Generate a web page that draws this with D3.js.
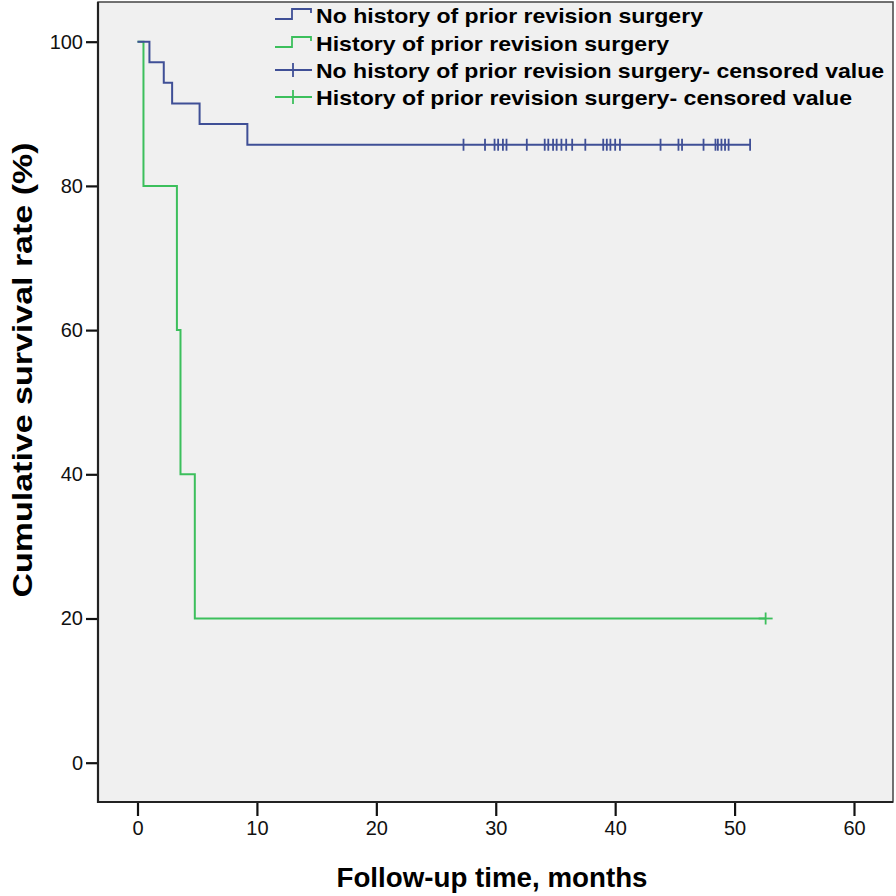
<!DOCTYPE html>
<html><head><meta charset="utf-8">
<script src="https://cdn.jsdelivr.net/npm/d3@7"></script>
<style>body{margin:0;background:#fff}svg{display:block}</style>
</head><body><svg id="c" width="896" height="896"></svg>
<script>
// ---- data ----
const groups = ["No history of prior revision surgery", "History of prior revision surgery"];
const noHistEventTimes = [1.0, 2.2, 2.9, 5.2, 9.2];
const noHistSurvival = [100, 97.14, 94.29, 91.43, 88.57, 85.71];
const noHistCensorTimes = [27.3, 29.1, 29.9, 30.2, 30.6, 30.9, 32.6, 34.1, 34.4, 34.8,
  35.1, 35.5, 35.9, 36.4, 37.5, 39.0, 39.3, 39.6, 40.0, 40.4,
  43.8, 45.3, 45.6, 47.4, 48.4, 48.6, 48.9, 49.2, 49.5, 51.3];
const histEventTimes = [0.5, 3.3, 3.6, 4.8];
const histSurvival = [100, 80, 60, 40, 20];
const histCensorTimes = [52.6];
const xTicks = [0, 10, 20, 30, 40, 50, 60];
const yTicks = [0, 20, 40, 60, 80, 100];
const legendLabels = [
  "No history of prior revision surgery",
  "History of prior revision surgery",
  "No history of prior revision surgery- censored value",
  "History of prior revision surgery- censored value"
];
const xTitle = "Follow-up time, months";
const yTitle = "Cumulative survival rate (%)";

// ---- layout ----
const svg = d3.select("#c");
const colors = ["#3f4f96", "#3cbf5c"];
const frame = {l: 98, r: 893, t: 2, b: 802};
const x = d3.scaleLinear().domain([0, 60]).range([137.5, 854]);
const y = d3.scaleLinear().domain([0, 100]).range([762.7, 41.7]);
const font = "'Liberation Sans', Arial, sans-serif";

svg.append("rect").attr("x", frame.l).attr("y", frame.t)
  .attr("width", frame.r - frame.l).attr("height", frame.b - frame.t)
  .attr("fill", "#f0f0f0").attr("stroke", "#444").attr("stroke-width", 1.5);

// axes
const yAxis = d3.axisLeft(y).tickValues(yTicks).tickSize(12).tickPadding(3);
const gy = svg.append("g").attr("transform", `translate(${frame.l},0)`).call(yAxis);
const xAxis = d3.axisBottom(x).tickValues(xTicks).tickSize(14).tickPadding(5);
const gx = svg.append("g").attr("transform", `translate(0,${frame.b})`).call(xAxis);
[gx, gy].forEach(g => {
  g.select(".domain").remove();
  g.selectAll(".tick line").attr("stroke", "#111").attr("stroke-width", 2.2);
  g.selectAll(".tick text").attr("font-family", font).attr("font-size", 20).attr("fill", "#111");
});
// axis lines
svg.append("line").attr("x1", frame.l).attr("x2", frame.l).attr("y1", frame.t).attr("y2", frame.b + 1)
  .attr("stroke", "#222").attr("stroke-width", 2.2);
svg.append("line").attr("x1", frame.l - 1).attr("x2", frame.r).attr("y1", frame.b).attr("y2", frame.b)
  .attr("stroke", "#222").attr("stroke-width", 2.2);

// curves
function kmPoints(times, surv, endT) {
  const pts = [[0, surv[0]]];
  times.forEach((t, i) => pts.push([t, surv[i + 1]]));
  pts.push([endT, surv[surv.length - 1]]);
  return pts;
}
const line = d3.line().x(d => x(d[0])).y(d => y(d[1])).curve(d3.curveStepAfter);
const series = [
  {pts: kmPoints(noHistEventTimes, noHistSurvival, d3.max(noHistCensorTimes)), cens: noHistCensorTimes, s: noHistSurvival[noHistSurvival.length - 1], c: colors[0], plus: false},
  {pts: kmPoints(histEventTimes, histSurvival, d3.max(histCensorTimes)), cens: histCensorTimes, s: histSurvival[histSurvival.length - 1], c: colors[1], plus: true}
];
series.slice().reverse().forEach(sr => {
  svg.append("path").attr("d", line(sr.pts)).attr("fill", "none")
    .attr("stroke", sr.c).attr("stroke-width", 2);
});
series.forEach(sr => {
  const g = svg.append("g").attr("stroke", sr.c).attr("stroke-width", 1.8);
  g.selectAll("line.v").data(sr.cens).join("line")
    .attr("x1", d => x(d)).attr("x2", d => x(d))
    .attr("y1", y(sr.s) - 6).attr("y2", y(sr.s) + 6);
  if (sr.plus) {
    g.selectAll("line.h").data(sr.cens).join("line")
      .attr("x1", d => x(d) - 7).attr("x2", d => x(d) + 7)
      .attr("y1", y(sr.s)).attr("y2", y(sr.s));
  }
});

// legend
const legRows = [15, 43, 70, 97];
const legWidths = [387, 353, 568, 536];
legendLabels.forEach((lab, i) => {
  const cy = legRows[i];
  const c = colors[i % 2];
  if (i < 2) {
    svg.append("path").attr("d", `M275,${cy + 4}H292V${cy - 6}H311V${cy - 2}`)
      .attr("fill", "none").attr("stroke", c).attr("stroke-width", 1.8);
  } else {
    svg.append("line").attr("x1", 275).attr("x2", 312).attr("y1", cy).attr("y2", cy)
      .attr("stroke", c).attr("stroke-width", 1.8);
    svg.append("line").attr("x1", 293).attr("x2", 293).attr("y1", cy - 7).attr("y2", cy + 7)
      .attr("stroke", c).attr("stroke-width", 1.8);
  }
  svg.append("text").attr("x", 316).attr("y", cy).attr("dy", "0.36em")
    .attr("font-family", font).attr("font-weight", "bold").attr("font-size", 21)
    .attr("textLength", legWidths[i]).attr("lengthAdjust", "spacingAndGlyphs")
    .text(lab);
});

// titles
svg.append("text").attr("x", 492).attr("y", 877).attr("dy", "0.36em")
  .attr("text-anchor", "middle").attr("font-family", font).attr("font-weight", "bold")
  .attr("font-size", 27).attr("textLength", 311).attr("lengthAdjust", "spacingAndGlyphs")
  .text(xTitle);
svg.append("text").attr("transform", "translate(22,370) rotate(-90)").attr("dy", "0.36em")
  .attr("text-anchor", "middle").attr("font-family", font).attr("font-weight", "bold")
  .attr("font-size", 27).attr("textLength", 455).attr("lengthAdjust", "spacingAndGlyphs")
  .text(yTitle);
</script></body></html>
